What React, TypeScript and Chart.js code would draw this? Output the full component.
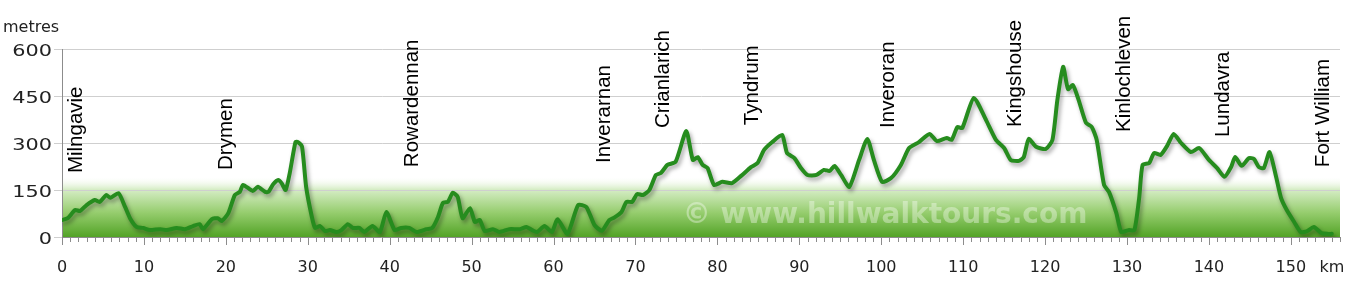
import React, { useEffect, useRef } from 'react';
import { Chart, registerables } from 'chart.js';

Chart.register(...registerables);

// ---- Data ----
const distanceKm = [
  0, 0.7, 1.6, 2.2, 3.0, 4.0, 4.6, 5.4, 5.9, 6.9, 7.7, 8.3, 9.1, 9.9, 10.7, 12.0, 12.8, 14.0, 15.0, 16.0,
  16.8, 17.2, 18.3, 19.0, 19.5, 20.3, 21.1, 21.7, 22.1, 23.3, 23.9, 24.8, 25.2, 25.8, 26.4, 26.8, 27.3, 27.8, 28.5, 28.8,
  29.3, 29.8, 30.5, 30.9, 31.5, 32.1, 32.7, 33.5, 34.1, 34.9, 35.5, 36.3, 36.9, 37.9, 38.8, 39.6, 40.6, 41.4, 42.4, 43.3,
  44.5, 45.2, 45.9, 46.5, 47.1, 47.7, 48.3, 48.9, 49.8, 50.4, 51.0, 51.6, 52.6, 53.4, 54.6, 55.9, 56.7, 57.4, 58.0, 58.9,
  59.8, 60.5, 61.7, 63.0, 64.0, 65.0, 65.9, 66.8, 67.4, 68.3, 68.9, 69.6, 70.2, 70.9, 71.7, 72.5, 73.1, 73.9, 74.9, 76.2,
  77.0, 77.6, 78.2, 78.8, 79.6, 80.6, 81.8, 82.9, 84.1, 84.9, 85.7, 86.7, 87.9, 88.5, 89.4, 90.2, 91.0, 92.1, 93.0, 93.7,
  94.3, 95.1, 96.1, 97.3, 98.3, 99.1, 100.1, 101.2, 102.4, 103.4, 104.6, 105.9, 106.8, 108.0, 108.6, 109.3, 109.9, 111.3, 112.8, 114.0,
  115.0, 115.8, 116.8, 117.4, 118.0, 118.9, 120.1, 120.9, 121.5, 122.2, 122.8, 123.4, 124.1, 125.0, 125.7, 126.3, 127.2, 127.8, 128.7, 129.3,
  130.2, 130.9, 131.5, 131.9, 132.7, 133.3, 134.1, 134.9, 135.7, 136.6, 137.8, 138.8, 140.0, 141.0, 141.9, 142.7, 143.2, 144.0, 144.9, 145.5,
  146.1, 146.7, 147.4, 148.2, 148.8, 149.5, 150.4, 151.2, 152.0, 152.8, 153.7, 154.4, 155.0,
];
const elevationM = [
  54, 60, 86, 83, 102, 118, 112, 134, 125, 140, 96, 60, 32, 29, 22, 25, 22, 29, 25, 35,
  41, 25, 57, 60, 51, 76, 134, 144, 166, 147, 160, 144, 144, 169, 182, 172, 150, 204, 303, 303,
  288, 160, 64, 29, 35, 19, 22, 16, 22, 41, 29, 29, 16, 35, 16, 80, 22, 29, 29, 16,
  25, 29, 64, 109, 112, 141, 128, 60, 92, 48, 54, 19, 25, 16, 25, 25, 32, 22, 16, 35,
  16, 57, 10, 102, 96, 38, 20, 54, 62, 80, 112, 112, 137, 134, 150, 198, 204, 230, 240, 338,
  246, 255, 230, 220, 166, 176, 172, 195, 223, 236, 278, 303, 326, 268, 252, 220, 198, 198, 214, 211,
  227, 198, 160, 246, 313, 246, 176, 188, 230, 284, 303, 329, 306, 316, 310, 351, 348, 444, 373, 310,
  284, 246, 243, 255, 313, 288, 281, 310, 437, 543, 472, 485, 437, 364, 351, 310, 166, 144, 76, 16,
  22, 22, 128, 230, 236, 268, 262, 291, 329, 300, 271, 284, 246, 220, 192, 223, 255, 227, 252, 249,
  223, 220, 271, 192, 125, 86, 48, 16, 19, 32, 13, 10, 10,
];

const yTickValues = [0, 150, 300, 450, 600];
const xTickValues = [0, 10, 20, 30, 40, 50, 60, 70, 80, 90, 100, 110, 120, 130, 140, 150];
const placeNames = [
  'Milngavie', 'Drymen', 'Rowardennan', 'Inverarnan', 'Crianlarich', 'Tyndrum',
  'Inveroran', 'Kingshouse', 'Kinlochleven', 'Lundavra', 'Fort William',
];
const placeKm = [2.4, 20.8, 43.5, 66.9, 74.1, 84.9, 101.6, 117.0, 130.4, 142.4, 154.6];
const placeLabelElev = [204, 214, 223, 236, 348, 357, 348, 351, 335, 319, 223];
const yAxisTitle = 'metres';
const xAxisUnit = 'km';
const watermarkText = '© www.hillwalktours.com';

const AXIS_FONT = '16px "DejaVu Sans"';

const bandPlugin = {
  id: 'band',
  beforeDraw(chart: any) {
    const { ctx, chartArea, scales } = chart;
    const top = scales.y.getPixelForValue(195);
    const bottom = chartArea.bottom;
    const g = ctx.createLinearGradient(0, top, 0, bottom);
    g.addColorStop(0, 'rgba(255,255,255,0)');
    g.addColorStop(0.22, 'rgb(214,237,198)');
    g.addColorStop(0.6, 'rgb(150,205,110)');
    g.addColorStop(1, 'rgb(82,163,38)');
    ctx.save();
    ctx.fillStyle = g;
    ctx.fillRect(chartArea.left, top, chartArea.right - chartArea.left, bottom - top);
    ctx.restore();
  },
};

const watermarkPlugin = {
  id: 'watermark',
  beforeDatasetsDraw(chart: any) {
    const { ctx, chartArea } = chart;
    const w = chartArea.right - chartArea.left;
    ctx.save();
    ctx.font = 'bold 28px "DejaVu Sans"';
    ctx.fillStyle = 'rgba(255,255,255,0.36)';
    ctx.textAlign = 'center';
    ctx.textBaseline = 'alphabetic';
    ctx.fillText(watermarkText, chartArea.left + w * 0.644, chartArea.bottom - 14);
    ctx.restore();
  },
};

const shadowPlugin = {
  id: 'lineShadow',
  beforeDatasetDraw(chart: any) {
    const ctx = chart.ctx;
    ctx.save();
    ctx.shadowColor = 'rgba(0,0,0,0.35)';
    ctx.shadowBlur = 4;
    ctx.shadowOffsetX = 2;
    ctx.shadowOffsetY = 3;
  },
  afterDatasetDraw(chart: any) {
    chart.ctx.restore();
  },
};

const axesPlugin = {
  id: 'customAxes',
  afterDraw(chart: any) {
    const { ctx, chartArea, scales } = chart;
    const x = scales.x;
    const y = scales.y;
    ctx.save();
    // x axis line
    ctx.strokeStyle = '#8c8c8c';
    ctx.lineWidth = 1;
    ctx.beginPath();
    ctx.moveTo(chartArea.left, Math.round(chartArea.bottom) + 0.5);
    ctx.lineTo(chartArea.right, Math.round(chartArea.bottom) + 0.5);
    ctx.stroke();
    // x ticks every km
    for (let k = 0; k <= Math.floor(x.max); k++) {
      const px = Math.round(x.getPixelForValue(k)) + 0.5;
      const len = k % 10 === 0 ? 8 : 5;
      ctx.beginPath();
      ctx.moveTo(px, chartArea.bottom);
      ctx.lineTo(px, chartArea.bottom + len);
      ctx.stroke();
    }
    // x labels
    ctx.fillStyle = '#222';
    ctx.font = AXIS_FONT;
    ctx.textAlign = 'center';
    ctx.textBaseline = 'alphabetic';
    xTickValues.forEach((v) => {
      ctx.fillText(String(v), x.getPixelForValue(v), chartArea.bottom + 35);
    });
    ctx.textAlign = 'left';
    ctx.fillText(xAxisUnit, x.getPixelForValue(153.5), chartArea.bottom + 35);
    // y labels (wide digits)
    ctx.textAlign = 'right';
    yTickValues.forEach((v) => {
      ctx.save();
      ctx.translate(chartArea.left - 10, y.getPixelForValue(v) + 7);
      ctx.scale(1.3, 1);
      ctx.fillText(String(v), 0, 0);
      ctx.restore();
    });
    ctx.textAlign = 'left';
    ctx.fillText(yAxisTitle, 3, 32);
    // place labels
    ctx.font = '20.5px "Liberation Sans"';
    ctx.fillStyle = '#000';
    placeNames.forEach((name, i) => {
      const px = x.getPixelForValue(placeKm[i]);
      const py = y.getPixelForValue(placeLabelElev[i]);
      ctx.save();
      ctx.translate(px, py);
      ctx.rotate(-Math.PI / 2);
      ctx.textAlign = 'left';
      ctx.textBaseline = 'alphabetic';
      ctx.fillText(name, 0, 0);
      ctx.restore();
    });
    ctx.restore();
  },
};

export default function App() {
  const canvasRef = useRef<HTMLCanvasElement | null>(null);

  useEffect(() => {
    if (!canvasRef.current) return;
    const points = distanceKm.map((d, i) => ({ x: d, y: elevationM[i] }));
    const chart = new Chart(canvasRef.current, {
      type: 'line',
      data: {
        datasets: [
          {
            data: points,
            borderColor: 'rgb(38,140,30)',
            borderWidth: 4,
            pointRadius: 0,
            tension: 0.2,
            fill: false,
            borderJoinStyle: 'round',
            borderCapStyle: 'round',
          },
        ],
      },
      options: {
        animation: false,
        responsive: true,
        maintainAspectRatio: false,
        layout: { padding: { top: 49, right: 18, left: 0, bottom: 0 } },
        plugins: { legend: { display: false }, tooltip: { enabled: false } },
        scales: {
          x: {
            type: 'linear',
            min: 0,
            max: 156,
            grid: { display: false },
            border: { display: false },
            ticks: { display: false, stepSize: 10 },
            afterFit: (s: any) => {
              s.height = 53;
            },
          },
          y: {
            min: 0,
            max: 600,
            ticks: { display: false, stepSize: 150 },
            grid: { color: '#cfcfcf', lineWidth: 1, drawTicks: true, tickLength: 8 },
            border: { display: true, color: '#8c8c8c', width: 1 },
            afterFit: (s: any) => {
              s.width = 62;
            },
          },
        },
      },
      plugins: [bandPlugin, watermarkPlugin, shadowPlugin, axesPlugin],
    });
    return () => chart.destroy();
  }, []);

  return (
    <div style={{ position: 'fixed', left: 0, top: 0, width: 1358, height: 290, background: '#fff' }}>
      <canvas ref={canvasRef} />
    </div>
  );
}
